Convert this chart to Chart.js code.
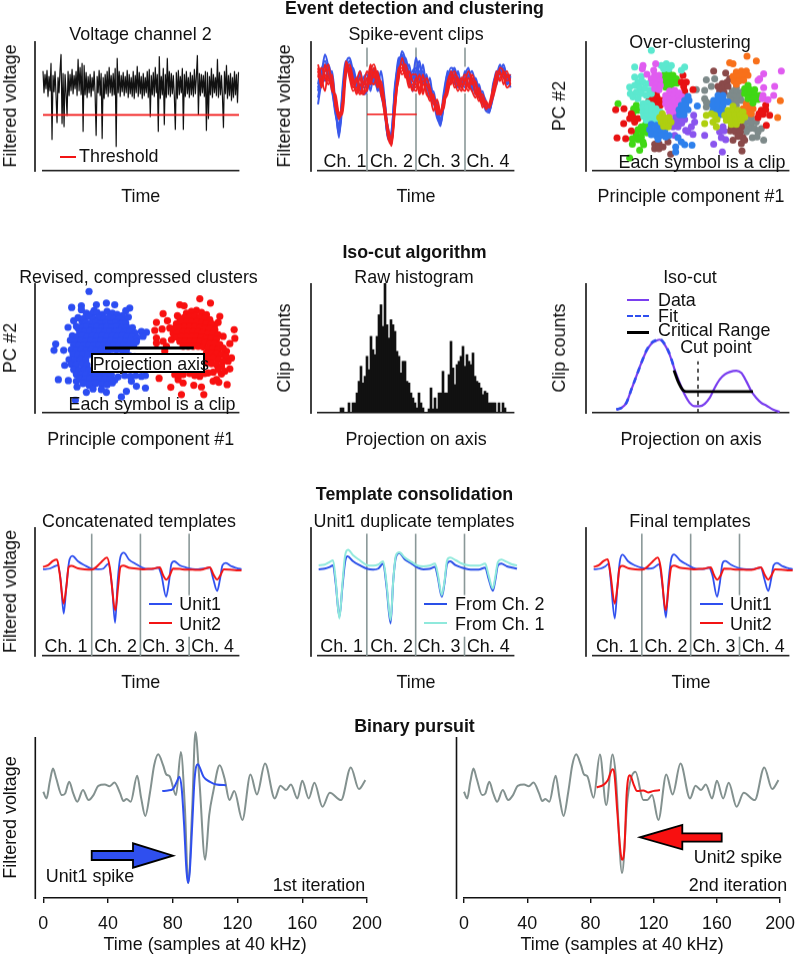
<!DOCTYPE html>
<html><head><meta charset="utf-8">
<style>
html,body{margin:0;padding:0;background:#fff;overflow:hidden;width:803px;height:957px}
canvas{position:absolute}
.t{position:absolute;font-family:"Liberation Sans",Arial,sans-serif;font-size:17.9px;line-height:1;color:#111;white-space:nowrap;z-index:5}
.h{font-weight:bold;font-size:17.8px}
.k{position:absolute;z-index:4}
svg{position:absolute;left:0;top:0;z-index:4}
</style>
<script src="https://cdn.jsdelivr.net/npm/chart.js@4/dist/chart.umd.min.js"></script>
</head><body>
<script>
// ---------- Panel 1: voltage trace ----------
const voltageTrace=[100,78,97,82,101,74,95,80,108,31,96,79,100,76,48,94,78,101,117,47,98,44,97,78,55,100,75,97,80,102,77,96,82,100,75,112,80,104,76,108,39,106,76,99,73,95,78,97,74,94,80,100,76,35,95,78,101,75,98,32,94,72,97,77,100,74,104,78,96,75,98,76,103,24,113,78,100,74,96,79,99,75,95,78,101,73,97,77,94,74,100,72,96,78,105,74,99,77,95,72,98,75,94,78,100,73,102,54,96,76,99,74,104,78,97,39,115,72,95,76,103,46,97,73,113,76,100,74,98,77,96,75,41,99,72,101,76,95,78,103,41,97,74,100,77,94,73,99,76,96,74,102,77,95,116,56,98,75,97,78,96,74,100,40,99,52,95,76,103,73,97,78,94,75,112,73,99,76,96,74,43,100,77,106,72,96,75,98,70,94,73,100,76,97,68,99];
const thresholdLevel=56;
// ---------- Panel 2: spike-event clips, 4 channels of 14 samples ----------
const clipBlue1=[240,300,330,290,240,180,110,200,320,340,300,260,290,250,260,310,280,250,300,220,120,90,220,330,345,300,320,270,340,290,300,240,260,220,190,140,200,260,300,280,260,270,290,310,250,270,230,240,190,180,230,270,310,290,270,290];
const clipBlue2=[220,280,300,320,270,190,130,230,310,310,280,240,250,280,290,240,300,270,230,180,100,120,240,340,320,340,290,250,300,330,260,290,230,240,180,170,240,290,280,260,300,250,300,260,280,240,260,210,200,190,250,300,290,300,260,280];
const clipBlue3=[260,310,270,310,260,200,100,250,330,300,310,270,260,230,240,290,260,300,250,200,95,110,260,320,350,310,280,300,310,270,320,250,280,200,210,150,220,280,310,300,250,280,260,300,270,230,250,220,180,175,260,290,300,320,280,270];
const clipBlue4=[250,290,350,310,250,170,140,220,300,330,290,250,300,260,280,260,310,240,260,190,130,80,230,310,330,290,300,240,270,300,280,270,220,230,170,135,230,270,290,310,270,260,270,280,300,260,220,230,210,185,220,280,320,280,290,250];
const clipBlue5=[200,270,320,280,300,200,120,210,290,320,260,280,240,270,250,300,270,290,240,210,110,100,250,300,360,330,260,290,280,320,270,260,250,210,160,145,210,300,270,290,280,265,250,290,240,280,240,200,195,178,240,260,300,310,260,285];
const clipRed1=[300,260,320,280,250,220,170,170,290,320,280,230,260,240,240,300,320,280,240,180,100,80,200,310,290,300,260,250,240,270,230,280,250,210,190,170,200,270,290,250,260,280,260,240,290,260,220,200,210,190,240,280,300,260,290,270];
const clipRed2=[320,280,240,310,260,210,160,190,330,300,260,280,240,230,280,260,300,250,270,210,120,75,180,290,300,320,280,240,280,230,260,240,210,230,170,175,220,250,300,270,240,270,290,260,240,220,250,210,190,200,230,300,290,280,250,260];
const clipRed3=[280,310,280,260,290,200,155,210,310,290,250,270,300,260,260,320,280,300,230,190,130,90,210,300,320,280,300,270,260,250,290,230,220,200,200,168,210,230,280,300,270,250,240,280,260,270,230,230,200,195,220,260,310,300,270,280];
const clipRed4=[290,270,300,320,240,230,175,180,320,280,240,250,230,260,300,270,260,290,260,200,110,85,190,280,310,290,270,290,290,240,270,260,230,180,215,180,190,260,260,290,280,260,270,300,270,240,210,220,185,205,250,290,270,300,280,290];
const clipRed5=[310,250,290,270,270,190,165,200,300,310,270,240,280,230,250,280,310,260,250,170,125,95,220,270,340,300,250,260,250,290,240,260,240,220,180,172,220,240,270,280,260,240,280,250,280,230,240,190,205,190,230,270,280,290,300,260];
const clipThreshold=[[14,170],[28.2,170]];
// ---------- Panel 3: over-clustering ----------
const clusterCyan=[[175,362],[220,322],[205,317],[235,317],[212,307],[228,307],[125,312],[275,312],[265,302],[110,252],[112,232],[125,282],[145,284],[135,267],[150,267],[165,262],[125,257],[140,250],[155,247],[170,242],[130,237],[145,232],[160,227],[120,222],[135,217],[175,232],[150,202],[163,204],[150,190],[163,190],[176,197],[189,187],[150,177],[163,177],[176,182],[189,174],[202,177],[152,164],[165,164],[178,167],[191,162],[160,152],[173,152],[186,150]];
const clusterMagenta=[[230,240],[245,242],[258,234],[218,227],[230,227],[243,227],[256,222],[268,222],[218,214],[230,214],[243,214],[256,209],[218,202],[230,202],[243,202],[256,197],[225,190],[238,190],[250,187],[230,177],[242,174],[185,287],[198,287],[175,277],[188,274],[200,272],[178,262],[190,260],[202,257],[185,247],[198,244],[150,317],[148,307],[162,290],[188,322],[182,302],[565,300],[512,292],[500,277],[495,272],[545,254],[512,250],[542,227],[510,227],[525,214],[508,217]];
const clusterGreen=[[215,290],[228,292],[240,287],[212,277],[225,277],[238,274],[250,277],[212,264],[225,262],[238,262],[252,264],[218,252],[232,250],[75,202],[130,197],[122,187],[135,182],[120,174],[158,140],[145,132],[160,127],[135,124],[148,119],[162,114],[130,110],[145,102],[118,97],[135,94],[150,87],[118,80],[152,79],[140,62],[110,39],[465,257],[455,247],[470,244],[485,244],[455,232],[470,230],[485,230],[500,227],[465,217],[480,217],[495,215],[480,204]];
const clusterRed=[[190,230],[180,222],[193,219],[168,212],[182,210],[196,207],[208,212],[190,197],[202,197],[270,287],[265,267],[280,267],[272,254],[275,240],[300,244],[68,184],[93,187],[115,172],[110,157],[125,147],[135,157],[120,160],[92,142],[72,99],[98,97],[115,120],[518,197],[505,182],[518,184],[498,172],[510,170],[530,167],[495,160],[520,137]];
const clusterBlue=[[175,140],[190,137],[205,134],[170,124],[185,122],[200,120],[215,120],[228,107],[175,109],[190,107],[205,107],[218,102],[195,95],[285,224],[275,212],[288,212],[265,197],[278,197],[258,184],[270,182],[285,184],[260,169],[273,169],[248,72],[248,57],[275,79],[265,87],[255,100],[297,77],[313,195],[375,227],[390,227],[362,212],[377,214],[392,212],[405,207],[360,197],[375,199],[390,197],[360,182],[375,184],[388,182],[380,169]];
const clusterPurple=[[260,172],[248,160],[262,160],[275,154],[238,147],[252,147],[266,144],[240,132],[255,132],[302,167],[305,147],[295,132],[285,117],[300,110],[278,122],[245,107],[335,107],[362,80],[388,57],[390,132],[380,117],[393,120],[385,100],[398,94]];
const clusterOlive=[[208,172],[200,160],[214,160],[228,160],[205,147],[220,147],[234,147],[212,134],[226,132],[420,194],[405,182],[420,182],[435,182],[450,177],[395,167],[410,167],[425,167],[440,167],[455,162],[400,152],[415,152],[430,152],[445,152],[415,140],[430,140],[335,142],[340,167],[355,172],[365,167],[372,154],[360,147],[370,132]];
const clusterBrown=[[185,80],[198,82],[185,67],[198,67],[210,72],[225,87],[233,50],[388,262],[402,267],[410,277],[375,254],[390,250],[405,254],[380,240],[393,237],[362,300],[398,294],[415,132],[430,130],[445,132],[412,120],[427,117],[442,117],[435,104],[450,100],[445,82],[420,92],[447,60],[455,92]];
const clusterGray=[[430,250],[418,240],[432,237],[445,237],[410,227],[425,224],[440,224],[415,212],[430,210],[445,212],[430,197],[310,244],[335,242],[355,254],[340,274],[365,277],[335,217],[340,192],[352,202],[340,207],[475,160],[460,147],[475,142],[490,147],[455,132],[470,127],[485,127],[505,127],[460,117],[495,117],[478,100],[492,102],[512,92]];
const clusterOrange=[[430,297],[445,300],[460,300],[420,284],[435,284],[450,287],[465,287],[423,270],[438,270],[452,272],[430,260],[410,325],[420,322],[462,345],[490,330],[460,202],[475,197],[450,187],[465,184],[480,187],[460,172],[475,172],[562,211],[554,160]];
// ---------- Panel 4: compressed clusters ----------
const revisedBlue=[[138,365],[86,317],[115,322],[115,310],[160,325],[190,330],[215,325],[260,315],[248,307],[153,307],[92,277],[75,257],[117,275],[105,255],[38,207],[33,188],[62,188],[65,143],[46,100],[76,97],[100,95],[102,78],[130,62],[138,83],[97,38],[235,48],[250,65],[307,75],[280,80],[265,95],[307,112],[295,110],[310,242],[295,245],[300,230],
[130,300],[147,298],[162,302],[178,296],[192,305],[208,300],[222,296],[238,292],[105,286],[122,284],[137,290],[152,283],[168,288],[183,284],[198,287],[213,283],[228,285],[243,278],[256,288],[128,272],[143,270],[158,274],[172,270],[188,272],[203,270],[218,273],[233,268],[248,270],[100,260],[116,258],[131,261],[146,258],[161,260],[176,257],[191,260],[206,258],[221,261],[236,257],[251,258],[268,256],[110,246],[125,245],[140,247],[155,244],[170,246],[185,244],[200,246],[215,244],[230,247],[245,244],[260,246],[276,240],[88,232],[103,230],[118,233],[133,230],[148,232],[163,230],[178,233],[193,230],[208,232],[223,230],[238,233],[253,230],[268,230],[283,226],[82,218],[98,216],[113,218],[128,216],[143,218],[158,216],[173,218],[188,216],[203,218],[218,216],[233,218],[248,216],[263,218],[280,214],[92,204],[107,202],[122,204],[137,202],[152,204],[167,202],[182,204],[197,202],[212,204],[227,202],[242,204],[257,202],[272,204],[85,190],[100,188],[115,190],[130,188],[145,190],[160,188],[175,190],[190,188],[205,190],[220,188],[235,190],[250,188],[90,176],[105,174],[120,176],[135,174],[150,176],[165,174],[180,176],[195,174],[240,176],[258,172],[275,168],[78,160],[95,158],[112,160],[128,158],[85,146],[100,144],[118,146],[132,144],[92,130],[108,128],[124,130],[138,128],[100,116],[115,114],[130,116],[145,114],[160,116],[175,114],[190,116],[205,114],[225,108],[245,112],[262,110],[278,112],[110,102],[125,100],[140,102],[155,100],[170,102],[185,100],[200,100],[215,98],[120,88],[140,86],[158,88],[176,86],[192,84],[208,90],[150,72],[175,70],[190,62]];
const revisedRed=[[470,343],[502,330],[410,325],[423,322],[360,298],[403,292],[530,290],[340,272],[373,277],[525,272],[515,265],[573,250],[335,248],[357,252],[380,255],[575,224],[540,230],[560,208],[550,185],[565,165],[555,155],[560,132],[535,117],[510,95],[527,92],[552,85],[482,55],[415,55],[383,77],[348,104],[452,83],[475,78],[405,100],[420,90],[340,225],[340,210],[360,215],[370,200],[385,220],[390,240],[365,185],[410,115],[395,115],[470,110],[495,120],[520,100],
[430,300],[445,305],[460,308],[475,302],[490,295],[410,285],[425,288],[440,290],[455,292],[470,288],[485,285],[500,280],[400,268],[415,272],[430,275],[445,275],[460,275],[475,272],[490,270],[505,268],[395,255],[410,258],[425,260],[440,260],[455,260],[470,258],[485,255],[500,255],[515,250],[405,243],[420,245],[435,245],[450,245],[465,245],[480,243],[495,240],[510,240],[525,235],[400,228],[415,230],[430,230],[445,230],[460,230],[475,228],[490,225],[505,225],[520,222],[410,215],[425,215],[440,215],[455,215],[470,215],[485,213],[500,210],[515,208],[530,205],[420,200],[435,200],[450,200],[465,200],[480,198],[495,195],[510,195],[525,192],[540,195],[490,180],[505,180],[520,178],[535,175],[548,170],[495,165],[510,165],[525,160],[540,155],[490,150],[505,148],[520,145],[535,140],[420,115],[440,118],[455,112],[470,120],[485,118],[510,122],[525,130],[545,125]];
const projectionAxis=[[186,195],[452,195]];
// ---------- Panel 5: raw histogram ----------
const histCounts=[0,0,0,0,0,0,0,0,0,0,0,15,15,0,0,30,0,30,30,60,95,140,90,110,170,130,230,190,175,230,295,325,260,390,265,225,280,265,245,185,170,120,155,155,95,90,60,45,30,15,60,30,15,0,0,12,75,12,45,12,60,60,125,60,60,115,215,135,85,145,155,170,200,140,175,155,145,180,110,95,90,75,55,65,60,30,30,30,30,0,30,0,30,15,0,0,0,0];
// ---------- Panel 6: iso-cut ----------
const isoData=[[70,10],[85,15],[100,30],[115,70],[130,110],[145,150],[160,185],[175,208],[190,217],[200,220],[215,205],[230,175],[245,130],[260,90],[275,55],[290,30],[305,20],[320,20],[335,27],[350,45],[365,75],[380,100],[395,115],[410,123],[430,127],[445,120],[460,95],[475,65],[490,45],[505,30],[520,22],[540,10],[560,3]];
const isoFit=[[70,10],[85,15],[100,30],[115,70],[130,110],[145,150],[160,187],[175,210],[190,219],[200,222],[215,207],[230,177],[245,130]];
const isoCritical=[[243,128],[255,95],[270,68],[280,64],[480,64]];
const cutPoint=[[315,0],[315,155]];
// ---------- Panels 7-9: templates ----------
const unit1A=[[0,261],[20,263],[35,270],[45,273],[53,228],[62,128],[70,208],[78,283],[88,301],[105,285],[125,273],[146,263],[166,261],[181,263],[196,278],[207,208],[216,100],[224,228],[232,298],[242,311],[258,290],[280,276],[298,266],[315,262],[330,262],[345,266],[355,243],[369,178],[377,218],[385,278],[393,285],[410,273],[430,266],[448,262],[465,261],[480,263],[500,266],[510,233],[522,196],[530,228],[538,273],[548,280],[565,270],[580,265],[595,261]];
const unit2A=[[0,268],[15,273],[30,286],[42,290],[50,248],[62,158],[70,208],[77,268],[85,271],[105,264],[125,261],[146,260],[160,268],[175,283],[192,296],[200,268],[217,138],[225,208],[232,268],[240,272],[260,265],[280,263],[298,261],[315,262],[330,263],[350,267],[360,243],[370,230],[380,243],[390,263],[410,262],[430,260],[448,260],[465,259],[480,261],[500,267],[512,243],[522,230],[532,243],[542,261],[560,260],[580,258],[595,258]];
const fromCh2=[[2,261],[20,263],[35,268],[45,273],[53,218],[64,118],[73,208],[81,283],[88,300],[105,285],[125,273],[148,262],[165,260],[180,263],[195,278],[205,208],[217,98],[225,228],[233,298],[243,310],[260,290],[280,278],[298,266],[315,261],[333,262],[350,268],[358,238],[370,178],[378,218],[386,278],[395,285],[412,273],[430,266],[450,261],[465,260],[480,260],[500,266],[510,233],[523,196],[530,228],[538,273],[548,278],[565,270],[580,266],[595,263]];
const fromCh1=[[2,273],[20,275],[35,283],[45,288],[53,228],[64,113],[73,218],[81,303],[90,320],[105,303],[125,288],[148,273],[165,272],[180,275],[195,285],[205,218],[217,108],[225,228],[233,303],[243,312],[260,296],[280,283],[298,272],[315,270],[333,272],[350,278],[358,248],[370,183],[378,223],[386,288],[395,296],[412,288],[430,278],[450,273],[465,272],[480,272],[500,278],[510,243],[523,203],[530,238],[538,283],[548,290],[565,283],[580,276],[595,273]];
const finalUnit1=[[2,261],[22,263],[37,270],[47,278],[53,228],[65,113],[73,208],[80,283],[88,305],[105,285],[125,273],[148,265],[165,263],[180,265],[198,276],[207,218],[218,116],[226,228],[234,293],[242,306],[260,288],[280,276],[300,265],[317,262],[332,262],[347,266],[357,243],[371,178],[379,218],[387,278],[395,286],[412,275],[432,266],[450,262],[467,261],[482,262],[502,266],[512,233],[524,196],[532,228],[540,273],[550,280],[567,270],[582,265],[597,261]];
const finalUnit2=[[2,268],[17,273],[32,286],[44,291],[52,248],[65,158],[73,208],[79,263],[87,271],[107,264],[127,261],[148,260],[162,268],[177,283],[194,296],[202,268],[218,138],[226,208],[234,268],[242,272],[262,265],[282,263],[300,261],[317,262],[332,263],[352,267],[362,243],[372,230],[382,243],[392,263],[412,262],[432,260],[450,260],[467,259],[482,261],[502,267],[514,243],[524,230],[534,243],[544,261],[562,260],[582,258],[597,258]];
const channelEdges=[146,292,438];
const channelGapFrom=183, channelGapTo=58, channelLineTop=368;
// ---------- Panels 10-11: binary pursuit ----------
const traceStart=[[0,320],[2,300],[4,350],[6,390],[8,360],[11.5,310],[13.5,315],[16,350],[18.5,315],[21,290],[24.5,325],[28,295],[31,310],[34,338],[38,342],[41,337],[44,348],[47.5,315],[49.5,292],[51.5,298],[54,290],[58,368],[60.5,300],[63,247],[66,320],[68.5,400],[71,433],[74,400],[76,372],[78,367]];
const traceMiddle1=[[82,310],[85,440],[87.5,270],[89.5,45],[92,270],[94,500],[96.5,350],[100,115],[102.5,250],[105,320],[109,400],[112,360],[115,295],[118,322]];
const traceMiddle2=[[82,302],[86,432],[90,280],[94,432],[96,370],[100,75],[103.5,300],[108.5,380],[113.5,295],[116,295],[119,310]];
const traceEnd=[[123,235],[128,372],[132,312],[137,405],[143,300],[146.5,338],[150,325],[153,342],[157,300],[160,353],[164,300],[167.5,347],[172.5,275],[177,317],[184,295],[190,393],[195,328],[199,355]];
const unit1Template=[[73.5,322],[77,324],[80,328],[82.5,350],[84,365],[85.5,330],[87,220],[88.5,80],[89.5,45],[90.5,80],[92,220],[93.5,360],[95.5,403],[96.5,395],[99,365],[103,350],[107,342],[113,340]];
const unit2Template=[[84,333],[88,340],[91,355],[94,388],[95,380],[97,260],[99,140],[100,115],[101.5,150],[103,320],[105,370],[107.5,340],[109.5,322],[113.5,324],[116.5,318],[119.5,322],[124,325]];
const timeTicks=[0,40,80,120,160,200];

// ---------- styles ----------
const FONT='"Liberation Sans",Arial,sans-serif', FS=17.9, INK='#111';
const BLUE='#2F4FEF', RED='#F21414', GRAY='#8A9898', PURPLE='#7A3FEF', CYAN='#8FE9DC', CLIPB='#3A58EA', CLIPR='#F02020';
const mono={cubicInterpolationMode:'monotone'};
const line=(data,color,width,extra)=>Object.assign({data,borderColor:color,borderWidth:width,pointRadius:0,fill:false,tension:0,clip:false},extra||{});
const dots=(data,color,r)=>({data,showLine:false,pointRadius:r,pointBackgroundColor:color,pointBorderWidth:0,clip:false});
const seq=a=>a.map((v,i)=>[i,v]);

function panel(c){
  const cv=document.createElement('canvas');
  const H=c.bottom-c.top, W=c.W;
  cv.width=W;cv.height=H;cv.style.left=c.L+'px';cv.style.top=c.top+'px';cv.style.width=W+'px';cv.style.height=H+'px';
  document.body.appendChild(cv);
  const yw=c.plotL-c.L, xh=c.bottom-c.plotB, tH=c.plotT-c.top;
  const axisLine={id:'axisLine',afterDraw(ch){
    const x=ch.chartArea.left-c.gap, s=ch.scales.y, g=ch.ctx;
    g.save();g.strokeStyle=INK;g.lineWidth=1.6;g.beginPath();g.moveTo(x,s.top);g.lineTo(x,s.bottom+1);g.stroke();g.restore();
  }};
  const hasTicks=!!c.ticks;
  new Chart(cv,{
    type:c.bar?'bar':'line',
    data:{labels:c.labels,datasets:c.datasets.slice().reverse()},
    plugins:[axisLine],
    options:{
      responsive:false,animation:false,events:[],
      layout:{autoPadding:false,padding:{left:0,right:W-(c.plotR-c.L),top:tH,bottom:0}},
      plugins:{legend:{display:false},tooltip:{enabled:false},title:{display:false}},
      scales:{
        x:Object.assign(c.bar?{type:'category'}:{type:'linear',min:c.xMin||0,max:c.xMax},{
          position:'bottom',
          border:{display:true,color:INK,width:1.6},
          grid:{display:hasTicks,drawOnChartArea:false,drawTicks:hasTicks,tickLength:5,color:INK,lineWidth:1.4},
          ticks:hasTicks?{display:true,stepSize:40,autoSkip:false,maxRotation:0,minRotation:0,padding:c.tickPad,color:INK,font:{family:FONT,size:FS,lineHeight:1}}:{display:false},
          title:{display:true,text:c.xTitle,color:INK,font:{family:FONT,size:FS,lineHeight:1},padding:{top:0,bottom:2}},
          afterFit(s){s.height=xh}
        }),
        y:{type:'linear',min:0,max:c.yMax,position:'left',
          border:{display:false},grid:{display:false},ticks:{display:false},
          title:{display:!!c.yTitle,text:c.yTitle,color:INK,font:{family:FONT,size:FS,lineHeight:1},padding:{top:c.yTitleX-c.L-FS/2,bottom:0}},
          afterFit(s){s.width=yw}
        }
      }
    }
  });
}
const ROW=[{t:41,b:171,top:18,xY:197},{t:283,b:413,top:260,xY:440},{t:527,b:656,top:504,xY:683}];
const COL=[{L:0,W:282,pL:43,pR:238.5,yX:11,gap:8},{L:270,W:292,pL:318,pR:514,yX:285.5,gap:7},{L:540,W:263,pL:593,pR:789,yX:560,gap:7}];
function grid(r,cIdx,o){
  const R=ROW[r],C=COL[cIdx];
  panel(Object.assign({L:C.L,W:C.W,plotL:C.pL,plotR:C.pR,plotT:R.t,plotB:R.b,top:R.top,bottom:R.xY+FS/2+2,gap:C.gap,yTitleX:C.yX,yMax:390,xMax:587},o));
}
const vline=(x,y0,y1)=>line([[x,y0],[x,y1]],GRAY,1.6);
const clipEdge=x=>[vline(x,0,233),vline(x,313,370)];

grid(0,0,{xTitle:'Time',yTitle:'Filtered voltage',xMax:195,yMax:130,
  datasets:[line(seq(voltageTrace),'#111',1.2),line([[0,thresholdLevel],[195.5,thresholdLevel]],RED,1.8)]});
grid(0,1,{xTitle:'Time',yTitle:'Filtered voltage',xMax:56,
  datasets:[...clipEdge(14),...clipEdge(28),...clipEdge(42),
    ...[clipBlue1,clipBlue2,clipBlue3,clipBlue4,clipBlue5].map(a=>line(seq(a),CLIPB,2,mono)),
    ...[clipRed1,clipRed2,clipRed3,clipRed4,clipRed5].map(a=>line(seq(a),CLIPR,1.8,mono)),
    line(clipThreshold,RED,1.6)]});
grid(0,2,{xTitle:'Principle component #1',yTitle:'PC #2',xMax:588,
  datasets:[dots(clusterGray,'#7E8A8A',3.5),dots(clusterBrown,'#8A4A4A',3.5),dots(clusterOrange,'#F8701A',3.5),dots(clusterGreen,'#3FD815',3.5),dots(clusterRed,'#E81212',3.5),dots(clusterCyan,'#5CE8CF',3.5),dots(clusterMagenta,'#E05CF0',3.5),dots(clusterPurple,'#8A55EE',3.5),dots(clusterBlue,'#2E80EC',3.5),dots(clusterOlive,'#AFCF10',3.5)]});

grid(1,0,{xTitle:'Principle component #1',yTitle:'PC #2',xMax:586,
  datasets:[dots(revisedBlue,'#2C4DF2',3.6),dots(revisedRed,'#F81010',3.6),line(projectionAxis,'#000',3)]});
grid(1,1,{xTitle:'Projection on axis',yTitle:'Clip counts',bar:true,labels:histCounts.map((v,i)=>String(i)),
  datasets:[{data:histCounts,backgroundColor:'#111',barPercentage:1,categoryPercentage:1,borderWidth:0}]});
grid(1,2,{xTitle:'Projection on axis',yTitle:'Clip counts',xMax:588,
  datasets:[line(cutPoint,'#111',1.4,{borderDash:[4,4]}),line(isoData,PURPLE,2.2,mono),line(isoFit,BLUE,2.6,Object.assign({borderDash:[6,5]},mono)),line(isoCritical,'#000',2.8,mono)]});

const edges3=()=>[vline(channelEdges[0],0,channelLineTop),vline(channelEdges[1],0,channelLineTop),vline(channelEdges[2],0,channelGapTo),vline(channelEdges[2],channelGapFrom,channelLineTop)];
grid(2,0,{xTitle:'Time',yTitle:'Filtered voltage',xMax:586,yMax:388,
  datasets:[...edges3(),line(unit1A,BLUE,1.8,mono),line(unit2A,RED,2,mono)]});
grid(2,1,{xTitle:'Time',yTitle:'',xMax:586,yMax:388,
  datasets:[...edges3(),line(fromCh2,'#2A50E8',2,mono),line(fromCh1,CYAN,2,mono)]});
grid(2,2,{xTitle:'Time',yTitle:'',xMax:586,yMax:388,
  datasets:[...edges3(),line(finalUnit1,BLUE,1.8,mono),line(finalUnit2,RED,2,mono)]});

panel({L:0,W:400,plotL:43.3,plotR:367,plotT:737,plotB:898,top:730,bottom:956,gap:8,yTitle:'Filtered voltage',yTitleX:11,xTitle:'Time (samples at 40 kHz)',xMax:200,yMax:485,ticks:timeTicks,tickPad:12,
  datasets:[line(traceStart.concat(traceMiddle1,traceEnd),'#83918F',2,mono),line(unit1Template,BLUE,2,mono)]});
panel({L:418,W:389,plotL:464,plotR:789,plotT:737,plotB:898,top:730,bottom:956,gap:7.5,yTitle:'',yTitleX:430,xTitle:'Time (samples at 40 kHz)',xMax:200,yMax:485,ticks:timeTicks,tickPad:12,
  datasets:[line(traceStart.concat(traceMiddle2,traceEnd),'#83918F',2,mono),line(unit2Template,RED,2,mono)]});

// ---------- text annotations ----------
const headings=[['Event detection and clustering',414.5,9],['Iso-cut algorithm',414.5,253],['Template consolidation',414.5,495],['Binary pursuit',414.5,727]];
const panelTitles=[['Voltage channel 2',140.5,35],['Spike-event clips',416,35],['Over-clustering',690,43],['Revised, compressed clusters',138.5,278],['Raw histogram',414,278],['Iso-cut',690,278],['Concatenated templates',139,522],['Unit1 duplicate templates',414,522],['Final templates',690,522]];
const centered=[['Ch. 1',345,162],['Ch. 2',391.5,162],['Ch. 3',439,162],['Ch. 4',488,162],['Each symbol is a clip',702,163],['Each symbol is a clip',152,405],['Cut point',716,348],
 ['Ch. 1',66,647],['Ch. 2',115.6,647],['Ch. 3',163.6,647],['Ch. 4',212.6,647],['Ch. 1',341.6,647],['Ch. 2',391.6,647],['Ch. 3',439,647],['Ch. 4',488.3,647],['Ch. 1',617.3,647],['Ch. 2',666,647],['Ch. 3',714,647],['Ch. 4',763.3,647],
 ['Unit1 spike',90,877],['1st iteration',319,886],['Unit2 spike',738,858],['2nd iteration',738,886]];
const leftAligned=[['Threshold',79,157],['Data',658,301],['Fit',658,317],['Critical Range',658,331],['Unit1',179.3,605],['Unit2',179.3,624.5],['From Ch. 2',455,605],['From Ch. 1',455,624.5],['Unit1',730,605],['Unit2',730,624.5]];
const keys=[[60,76,156,RED,2,'solid'],[627,649,299,PURPLE,2,'solid'],[627,649,315,BLUE,2,'dashed'],[627,649,331,'#000',3,'solid'],[149,172,603,BLUE,2,'solid'],[149,172,622,RED,2,'solid'],[424,447,603,'#2A50E8',2,'solid'],[424,447,622,CYAN,2,'solid'],[700,723,603,BLUE,2,'solid'],[700,723,622,RED,2,'solid']];
function text(s,x,y,cls,tx){const d=document.createElement('div');d.className=cls;d.textContent=s;d.style.left=x+'px';d.style.top=y+'px';d.style.transform=tx;document.body.appendChild(d);return d;}
headings.forEach(a=>text(a[0],a[1],a[2],'t h','translate(-50%,-50%)'));
panelTitles.forEach(a=>text(a[0],a[1],a[2],'t','translate(-50%,-50%)'));
centered.forEach(a=>text(a[0],a[1],a[2],'t','translate(-50%,-50%)'));
leftAligned.forEach(a=>text(a[0],a[1],a[2],'t','translateY(-50%)'));
keys.forEach(k=>{const d=document.createElement('div');d.className='k';d.style.cssText+=`left:${k[0]}px;top:${k[2]}px;width:${k[1]-k[0]}px;height:0;border-top:${k[4]}px ${k[5]} ${k[3]}`;document.body.appendChild(d);});
const box=text('Projection axis',90.7,353.3,'t','none');
box.style.cssText+='width:114px;height:20px;line-height:19px;border:2px solid #000;background:#fff;text-align:center;box-sizing:border-box;overflow:visible;';
const svgNS='http://www.w3.org/2000/svg',svg=document.createElementNS(svgNS,'svg');
svg.setAttribute('width',803);svg.setAttribute('height',957);
[['91.7,851 133,851 133,843.3 173,855.7 133,867.7 133,860 91.7,860',BLUE],['721.7,833.3 682.3,833.3 682.3,825 640,837.3 682.3,849.3 682.3,841.7 721.7,841.7','#F81010']].forEach(p=>{
  const g=document.createElementNS(svgNS,'polygon');g.setAttribute('points',p[0]);g.setAttribute('fill',p[1]);g.setAttribute('stroke','#000');g.setAttribute('stroke-width','1.8');svg.appendChild(g);});
document.body.appendChild(svg);
</script>
</body></html>
